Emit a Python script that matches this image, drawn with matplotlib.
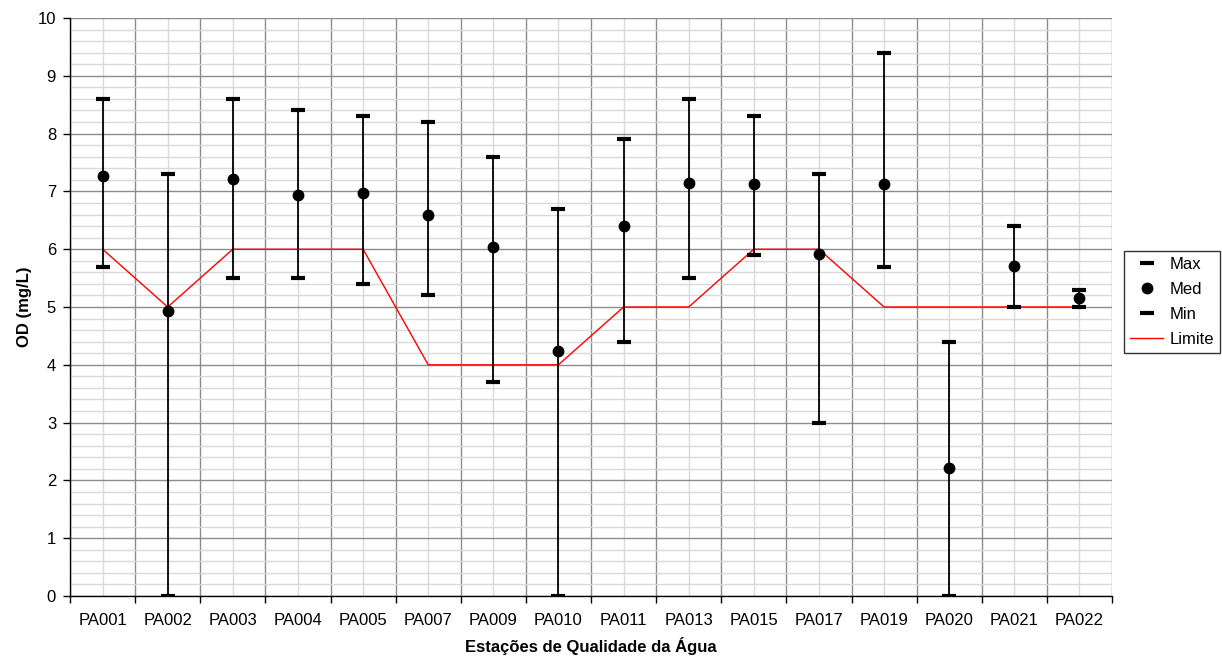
import numpy as np
import matplotlib
matplotlib.use("Agg")
import matplotlib.pyplot as plt
from matplotlib.lines import Line2D

plt.rcParams['font.family'] = ['Liberation Sans', 'DejaVu Sans']

stations = ["PA001", "PA002", "PA003", "PA004", "PA005", "PA007", "PA009", "PA010",
            "PA011", "PA013", "PA015", "PA017", "PA019", "PA020", "PA021", "PA022"]
od_max = [8.6, 7.3, 8.6, 8.4, 8.3, 8.2, 7.6, 6.7, 7.9, 8.6, 8.3, 7.3, 9.4, 4.4, 6.4, 5.3]
od_med = [7.27, 4.93, 7.21, 6.93, 6.97, 6.59, 6.03, 4.24, 6.40, 7.15, 7.13, 5.91, 7.13, 2.21, 5.71, 5.15]
od_min = [5.7, 0.0, 5.5, 5.5, 5.4, 5.2, 3.7, 0.0, 4.4, 5.5, 5.9, 3.0, 5.7, 0.0, 5.0, 5.0]
limite = [6, 5, 6, 6, 6, 4, 4, 4, 5, 5, 6, 6, 5, 5, 5, 5]

fig = plt.figure(figsize=(12.22, 6.61), dpi=100)
ax = fig.add_axes([70/1222, 65/661, 1042/1222, 578/661])

x = np.arange(len(stations))

ax.vlines(x, od_min, od_max, color='black', lw=1.3, zorder=3)
ax.plot(x, od_max, linestyle='none', marker='_', markersize=10, mew=3, color='black', zorder=4, label='Max')
ax.plot(x, od_med, linestyle='none', marker='o', markersize=7.5, color='black', zorder=5, label='Med')
ax.plot(x, od_min, linestyle='none', marker='_', markersize=10, mew=3, color='black', zorder=4, label='Min')
ax.plot(x, limite, color='red', lw=1.0, zorder=2, label='Limite')

ax.set_xlim(-0.5, len(stations) - 0.5)
ax.set_ylim(0, 10)

# x: boundaries as major ticks, station labels as minor ticks
ax.set_xticks(np.arange(-0.5, len(stations), 1.0))
ax.set_xticklabels([])
ax.set_xticks(x, stations, minor=True)
ax.tick_params(axis='x', which='major', length=5, width=1, direction='out')
ax.tick_params(axis='x', which='minor', length=0, pad=12, labelsize=12)

ax.set_yticks(np.arange(0, 11, 1))
ax.set_yticks(np.arange(0, 10.01, 0.2), minor=True)
ax.tick_params(axis='y', which='major', length=5, width=1, direction='out', pad=5, labelsize=12)
ax.tick_params(axis='y', which='minor', length=0)

ax.grid(which='major', axis='both', color='#8c8c8c', lw=1.0, zorder=0)
ax.grid(which='minor', axis='y', color='#d9d9d9', lw=1.0, zorder=0)
ax.grid(which='minor', axis='x', color='#d9d9d9', lw=1.0, zorder=0)
ax.set_axisbelow(True)

for s in ['top', 'right']:
    ax.spines[s].set_visible(False)
for s in ['left', 'bottom']:
    ax.spines[s].set_color('black')
    ax.spines[s].set_linewidth(1.0)

ax.set_xlabel('Estações de Qualidade da Água', fontsize=12, fontweight='bold', labelpad=7)
ax.set_ylabel('OD (mg/L)', fontsize=12, fontweight='bold', labelpad=4)

handles = [
    Line2D([], [], linestyle='none', marker='_', markersize=10, mew=3, color='black'),
    Line2D([], [], linestyle='none', marker='o', markersize=7.5, color='black'),
    Line2D([], [], linestyle='none', marker='_', markersize=10, mew=3, color='black'),
    Line2D([], [], color='red', lw=1.0),
]
leg = fig.legend(handles, ['Max', 'Med', 'Min', 'Limite'], loc='center left',
                 bbox_to_anchor=(1124/1222, 1 - 302/661), frameon=True, fancybox=False,
                 edgecolor='black', fontsize=12, handlelength=2.0, handletextpad=0.4,
                 borderpad=0.35, labelspacing=0.6, borderaxespad=0)
leg.get_frame().set_linewidth(1.0)

fig.savefig('out.png', dpi=100)
